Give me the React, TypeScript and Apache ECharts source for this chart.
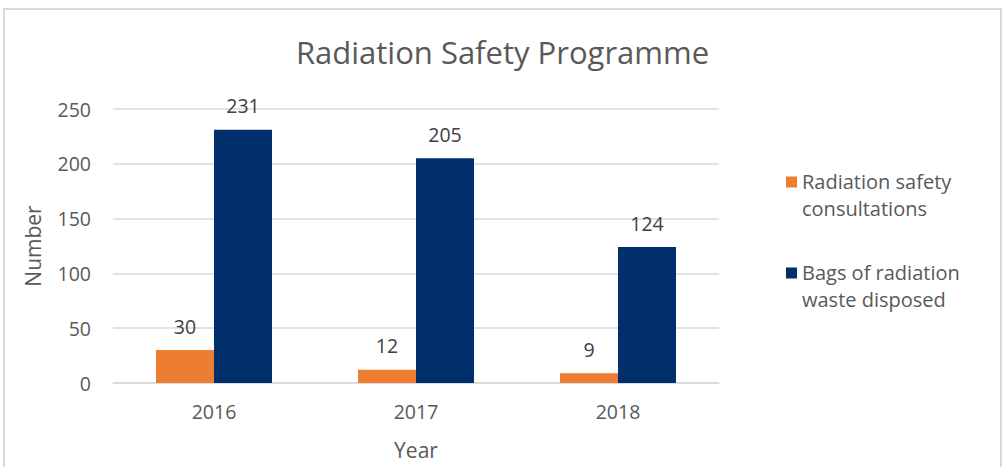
import React, { useEffect, useRef } from "react";
import * as echarts from "echarts";

const categories = ["2016", "2017", "2018"];
const consultations = [30, 12, 9];
const bags = [231, 205, 124];
const seriesNames = ["Radiation safety consultations", "Bags of radiation waste disposed"];
const legendLabels = ["Radiation safety\nconsultations", "Bags of radiation\nwaste disposed"];

const FONT = "Open Sans";
const TXT = "#595959";
// square at top of a taller box so it lines up with the first text line
const LEGEND_ICON = "path://M0,0L11,0L11,11L0,11Z M0,37L0.01,37";

export default function App() {
  const ref = useRef<HTMLDivElement>(null);
  useEffect(() => {
    if (!ref.current) return;
    const chart = echarts.init(ref.current, undefined, { renderer: "svg" });
    chart.setOption({
      animation: false,
      textStyle: { fontFamily: FONT },
      title: {
        text: "Radiation Safety Programme",
        left: "center",
        top: 31,
        textStyle: { fontFamily: FONT, fontSize: 31, fontWeight: "normal", color: TXT },
      },
      graphic: [
        {
          type: "rect",
          shape: { x: 4, y: 9, width: 997, height: 470 },
          style: { fill: "none", stroke: "#d9d9d9", lineWidth: 2 },
          silent: true,
        },
      ],
      legend: [0, 1].map((i) => ({
        data: [seriesNames[i]],
        left: 781,
        top: i === 0 ? 163 : 254,
        orient: "vertical",
        icon: LEGEND_ICON,
        itemWidth: 11,
        itemHeight: 37,
        formatter: () => legendLabels[i],
        textStyle: {
          fontFamily: FONT,
          fontSize: 20,
          color: TXT,
          lineHeight: 27,
        },
      })),
      grid: { left: 113, right: 286, top: 109, bottom: 84 },
      xAxis: {
        type: "category",
        data: categories,
        name: "Year",
        nameLocation: "middle",
        nameGap: 56,
        nameTextStyle: { fontFamily: FONT, fontSize: 21, color: TXT },
        axisLine: { lineStyle: { color: "#d9d9d9", width: 1.5 } },
        axisTick: { show: false },
        axisLabel: { fontFamily: FONT, fontSize: 19.5, color: TXT, margin: 18 },
      },
      yAxis: {
        type: "value",
        min: 0,
        max: 250,
        interval: 50,
        name: "Number",
        nameLocation: "middle",
        nameGap: 70,
        nameTextStyle: { fontFamily: FONT, fontSize: 21, color: TXT },
        axisLine: { show: false },
        axisTick: { show: false },
        axisLabel: { fontFamily: FONT, fontSize: 19.5, color: TXT, margin: 22 },
        splitLine: { lineStyle: { color: "#d9d9d9", width: 1.5 } },
      },
      series: [
        {
          name: seriesNames[0],
          type: "bar",
          data: consultations,
          barWidth: 58,
          barGap: "0%",
          itemStyle: { color: "#ED7D31" },
          label: { show: true, position: "top", distance: 14, fontFamily: FONT, fontSize: 19.5, color: "#404040" },
        },
        {
          name: seriesNames[1],
          type: "bar",
          data: bags,
          barWidth: 58,
          barGap: "0%",
          itemStyle: { color: "#002F6C" },
          label: { show: true, position: "top", distance: 14, fontFamily: FONT, fontSize: 19.5, color: "#404040" },
        },
      ],
    });
    return () => chart.dispose();
  }, []);
  return (
    <div
      ref={ref}
      style={{ position: "absolute", left: 0, top: 0, width: 1005, height: 467, background: "#fff" }}
    />
  );
}
